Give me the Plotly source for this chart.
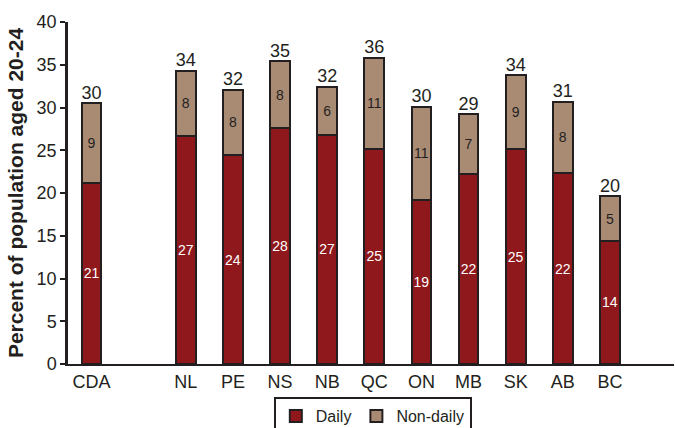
import plotly.graph_objects as go

categories = ["CDA", " ", "NL", "PE", "NS", "NB", "QC", "ON", "MB", "SK", "AB", "BC"]
daily = [21.2, None, 26.7, 24.4, 27.6, 26.8, 25.2, 19.2, 22.2, 25.1, 22.3, 14.4]
non_daily = [9.3, None, 7.6, 7.7, 7.8, 5.6, 10.6, 10.9, 7.0, 8.7, 8.4, 5.2]
daily_labels = ["21", "", "27", "24", "28", "27", "25", "19", "22", "25", "22", "14"]
non_daily_labels = ["9", "", "8", "8", "8", "6", "11", "11", "7", "9", "8", "5"]
total_labels = ["30", "", "34", "32", "35", "32", "36", "30", "29", "34", "31", "20"]

totals = [None if d is None else d + n for d, n in zip(daily, non_daily)]

DARK = "#231F20"
FONT = "Liberation Sans, Arial, sans-serif"

fig = go.Figure()
fig.add_trace(go.Bar(
    x=categories, y=daily, name="Daily",
    marker=dict(color="#8E181C", line=dict(color=DARK, width=2)),
    text=daily_labels, textposition="inside", insidetextanchor="middle",
    textfont=dict(color="white", size=14, family=FONT),
    constraintext="none", textangle=0, hoverinfo="skip",
))
fig.add_trace(go.Bar(
    x=categories, y=non_daily, name="Non-daily",
    marker=dict(color="#A98B74", line=dict(color=DARK, width=2)),
    text=non_daily_labels, textposition="inside", insidetextanchor="middle",
    textfont=dict(color=DARK, size=14, family=FONT),
    constraintext="none", textangle=0, hoverinfo="skip",
))
fig.add_trace(go.Scatter(
    x=categories, y=totals, mode="text", text=total_labels,
    textposition="top center", textfont=dict(color=DARK, size=18, family=FONT),
    showlegend=False, hoverinfo="skip",
))

fig.update_layout(
    width=675, height=428,
    margin=dict(l=68, r=1, t=22, b=64, autoexpand=False),
    barmode="stack", bargap=0.58,
    plot_bgcolor="white", paper_bgcolor="white",
    font=dict(family=FONT, color=DARK, size=17),
    showlegend=True,
    legend=dict(
        orientation="h", x=0.503, xanchor="center", y=-0.097, yanchor="top",
        bordercolor=DARK, borderwidth=2, font=dict(size=16, color=DARK),
        itemwidth=30, traceorder="normal",
    ),
    xaxis=dict(
        type="category", range=[-0.5, 12.36], showline=True, linecolor=DARK,
        linewidth=2, ticks="", showgrid=False, tickfont=dict(size=18, color=DARK),
        fixedrange=True,
    ),
    yaxis=dict(
        range=[0, 40], dtick=5, showline=True, linecolor=DARK, linewidth=2.5,
        ticks="outside", ticklen=5, tickwidth=2, tickcolor=DARK, showgrid=False,
        zeroline=False, tickfont=dict(size=18, color=DARK),
        title=dict(text="<b>Percent of population aged 20-24</b>",
                   font=dict(size=21, color=DARK), standoff=8),
    ),
)

fig.write_html("out.html")
